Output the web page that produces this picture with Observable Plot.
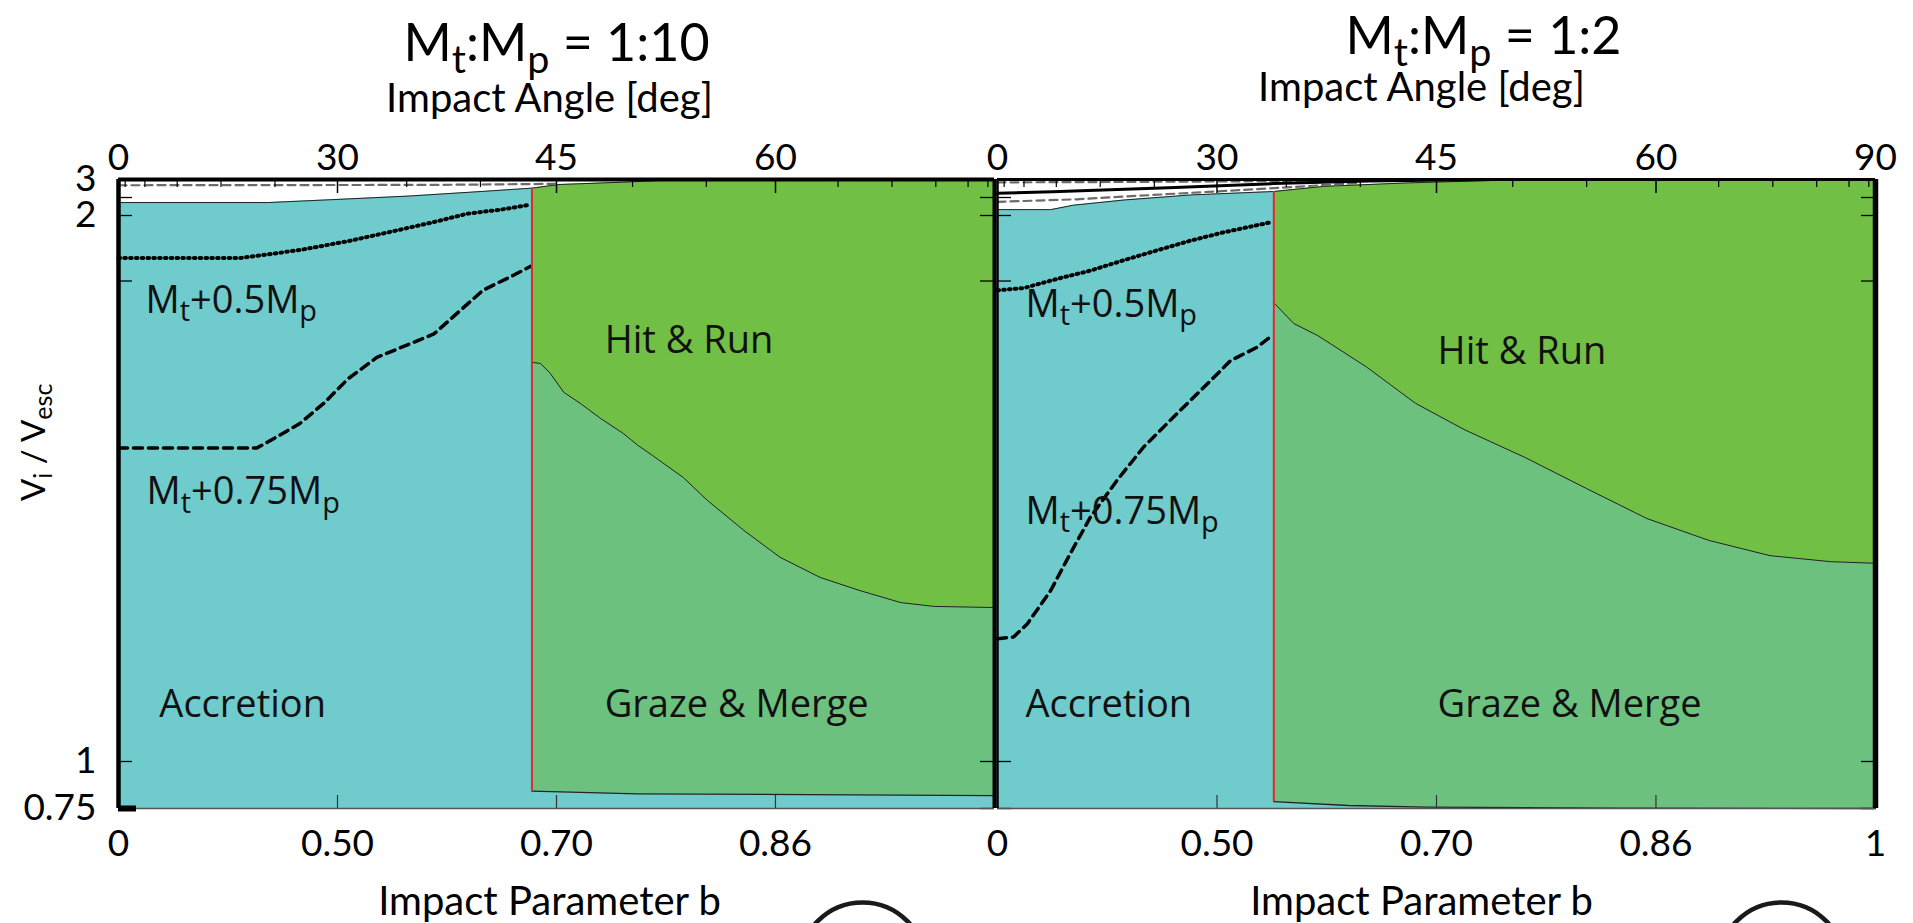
<!DOCTYPE html>
<html><head><meta charset="utf-8">
<script src="https://cdn.jsdelivr.net/npm/d3@7"></script>
<script src="https://cdn.jsdelivr.net/npm/@observablehq/plot@0.6"></script>
<style>
html,body{margin:0;padding:0;background:#fff;overflow:hidden;}
#wrap{position:relative;width:1913px;height:923px;overflow:hidden;}
#wrap svg{position:absolute;top:0;}
</style></head><body><div id="wrap"></div>
<script>
// ---------- shared axis values ----------
const yDomain = [0.75, 1, 2, 3];
const yTickMarks = [0.75, 1, 1.88, 2, 2.5, 3];
const yTickLabels = [0.75, 1, 2, 3];
const topMajorAngles = [30, 45, 60];
const topMinorAngles = [5, 10, 15, 20, 25, 35, 40, 50, 55, 65, 70, 75, 80, 85];
const bottomTickB = [0, 0.5, 0.7071, 0.866, 1];
const bottomTickText = ["0", "0.50", "0.70", "0.86", "1"];
const topTickAngles = [0, 30, 45, 60, 90];

// ---------- left panel (Mt:Mp = 1:10) ----------
const L_title = "M_t:M_p = 1:10";
const L_splitB = 0.687;
const L_accTopB = [0, 0.414, 0.503, 0.576, 0.645, 0.687];
const L_accTopV = [2.36, 2.36, 2.45, 2.54, 2.67, 2.76];
const L_hitTopB = [0.687, 0.709, 0.762, 0.80, 1];
const L_hitTopV = [2.76, 2.86, 2.93, 3.0, 3.0];
const L_boundB = [0.687, 0.694, 0.702, 0.713, 0.726, 0.742, 0.759, 0.770, 0.781, 0.803, 0.820, 0.845, 0.869, 0.895, 0.920, 0.945, 0.965, 1];
const L_boundV = [1.731, 1.729, 1.711, 1.676, 1.656, 1.628, 1.601, 1.579, 1.560, 1.520, 1.478, 1.423, 1.374, 1.337, 1.313, 1.291, 1.284, 1.282];
const L_floorB = [0.687, 0.770, 1];
const L_floorV = [0.842, 0.828, 0.819];
const L_halfB = [0, 0.373, 0.456, 0.515, 0.567, 0.600, 0.631, 0.660, 0.684];
const L_halfV = [1.922, 1.922, 1.937, 1.954, 1.974, 1.988, 2.05, 2.16, 2.29];
const L_q3B = [0, 0.397, 0.414, 0.455, 0.484, 0.512, 0.543, 0.600, 0.645, 0.671, 0.686];
const L_q3V = [1.574, 1.574, 1.586, 1.619, 1.656, 1.701, 1.740, 1.783, 1.863, 1.890, 1.907];
const L_grayDashes = [{b: [0, 0.6, 0.71], v: [2.84, 2.85, 2.88]}];
const L_blackThick = {b: [], v: []};
const L_labelText = ["Accretion", "Graze & Merge", "Hit & Run", "M_t+0.5M_p", "M_t+0.75M_p"];
const L_labelB = [0.216, 0.745, 0.745, 0.1756, 0.179];
const L_labelV = [1.103, 1.103, 1.771, 1.844, 1.493];

// ---------- right panel (Mt:Mp = 1:2) ----------
const R_title = "M_t:M_p = 1:2";
const R_splitB = 0.561;
const R_accTopB = [0, 0.246, 0.294, 0.379, 0.469, 0.561];
const R_accTopV = [2.163, 2.163, 2.286, 2.429, 2.571, 2.666];
const R_hitTopB = [0.561, 0.610, 0.684, 0.777, 1];
const R_hitTopV = [2.666, 2.81, 2.906, 3.0, 3.0];
const R_boundB = [0.561, 0.581, 0.604, 0.648, 0.690, 0.729, 0.775, 0.819, 0.860, 0.900, 0.938, 0.974, 1];
const R_boundV = [1.840, 1.802, 1.780, 1.723, 1.656, 1.608, 1.557, 1.500, 1.445, 1.405, 1.377, 1.366, 1.363];
const R_floorB = [0.561, 0.632, 0.699, 0.840, 1];
const R_floorV = [0.787, 0.766, 0.757, 0.752, 0.750];
const R_halfB = [0, 0.172, 0.261, 0.325, 0.379, 0.426, 0.469, 0.507, 0.559];
const R_halfV = [1.863, 1.867, 1.884, 1.899, 1.918, 1.936, 1.954, 1.969, 1.988];
const R_q3B = [0, 0.135, 0.184, 0.246, 0.288, 0.325, 0.369, 0.408, 0.452, 0.493, 0.515, 0.544, 0.559];
const R_q3V = [1.225, 1.228, 1.252, 1.313, 1.381, 1.447, 1.515, 1.576, 1.637, 1.698, 1.734, 1.759, 1.780];
const R_grayDashes = [{b: [0, 0.35, 0.6], v: [2.92, 2.93, 2.96]}, {b: [0, 0.3, 0.561, 0.64], v: [2.38, 2.45, 2.76, 2.9]}];
const R_blackThick = {b: [0, 0.25, 0.45, 0.561, 0.65, 0.75], v: [2.62, 2.66, 2.78, 2.886, 2.96, 3.0]};
const R_labelText = ["Accretion", "Graze & Merge", "Hit & Run", "M_t+0.5M_p", "M_t+0.75M_p"];
const R_labelB = [0.1786, 0.708, 0.708, 0.1786, 0.1786];
const R_labelV = [1.103, 1.103, 1.751, 1.837, 1.458];

// ---------- styling ----------
const CYAN = "#70cbcd", GRAZE = "#6cc17f", HIT = "#71bf45", RED = "#e8262a";
const AXF = "Lato, 'Open Sans', sans-serif";
const LBF = "'Open Sans', sans-serif";

const pts = (bs, vs) => bs.map((b, i) => ({b, v: vs[i]}));

function subscriptify(svg) {
  d3.select(svg).selectAll("text").each(function () {
    const t = this.textContent;
    if (!t.includes("_")) return;
    const fs = parseFloat(getComputedStyle(this).fontSize) || 30;
    const parts = [];
    const re = /_\{([^}]*)\}|_(.)/g;
    let last = 0, m;
    while ((m = re.exec(t))) {
      if (m.index > last) parts.push({s: t.slice(last, m.index), sub: false});
      parts.push({s: m[1] !== undefined ? m[1] : m[2], sub: true});
      last = re.lastIndex;
    }
    if (last < t.length) parts.push({s: t.slice(last), sub: false});
    while (this.firstChild) this.removeChild(this.firstChild);
    const shift = fs * 0.22;
    let down = false;
    for (const p of parts) {
      const ts = document.createElementNS("http://www.w3.org/2000/svg", "tspan");
      ts.textContent = p.s;
      if (p.sub) {
        ts.setAttribute("font-size", (fs * 0.76).toFixed(1));
        if (!down) { ts.setAttribute("dy", shift.toFixed(1)); down = true; }
      } else if (down) { ts.setAttribute("dy", (-shift).toFixed(1)); down = false; }
      this.appendChild(ts);
    }
  });
}

function panel(cfg) {
  const frameH = 808 - 179;
  const frameW = cfg.width - cfg.ml - cfg.mr;
  const accTop = pts(cfg.accTopB, cfg.accTopV);
  const hitTop = pts(cfg.hitTopB, cfg.hitTopV);
  const bound = pts(cfg.boundB, cfg.boundV);
  const floor = pts(cfg.floorB, cfg.floorV);
  const half = pts(cfg.halfB, cfg.halfV);
  const q3 = pts(cfg.q3B, cfg.q3V);
  const labels = cfg.labelText.map((s, i) => ({s, b: cfg.labelB[i], v: cfg.labelV[i]}));
  const topTicks = cfg.topAngles.map(a => ({b: Math.sin(a * Math.PI / 180), s: String(a)}));
  const botTicks = cfg.botIdx.map(i => ({b: bottomTickB[i], s: bottomTickText[i]}));
  const sinA = a => Math.sin(a * Math.PI / 180);
  const marks = [
    Plot.areaY(hitTop, {x: "b", y1: 0.75, y2: "v", fill: HIT}),
    Plot.areaY(accTop, {x: "b", y1: 0.75, y2: "v", fill: CYAN}),
    Plot.areaY(bound, {x: "b", y1: 0.75, y2: "v", fill: GRAZE}),
    Plot.areaY(floor, {x: "b", y1: 0.75, y2: "v", fill: CYAN}),
    Plot.line(accTop.concat(hitTop.slice(1)), {x: "b", y: "v", stroke: "#222", strokeWidth: 1}),
    Plot.line(bound, {x: "b", y: "v", stroke: "#222", strokeWidth: 1}),
    Plot.line(floor, {x: "b", y: "v", stroke: "#222", strokeWidth: 1.3}),
    ...cfg.grayDashes.map(g => Plot.line(pts(g.b, g.v), {x: "b", y: "v", stroke: "#6b6b6b", strokeWidth: 2.2, strokeDasharray: "8,5"})),
    Plot.line(pts(cfg.blackThick.b, cfg.blackThick.v), {x: "b", y: "v", stroke: "#000", strokeWidth: 3}),
    Plot.line(half, {x: "b", y: "v", stroke: "#000", strokeWidth: 4, strokeDasharray: "1.6,4.2"}),
    Plot.line(q3, {x: "b", y: "v", stroke: "#000", strokeWidth: 3.5, strokeDasharray: "9,6"}),
    Plot.ruleX([cfg.splitB], {x: d => d, y1: cfg.floorV[0], y2: cfg.accTopV[cfg.accTopV.length - 1], stroke: RED, strokeWidth: 2}),
    // tick marks
    Plot.tickX(topMajorAngles, {x: sinA, insetBottom: frameH - 14, stroke: "#000", strokeWidth: 1.5}),
    Plot.tickX(topMinorAngles, {x: sinA, insetBottom: frameH - 8, stroke: "#000", strokeWidth: 1.2}),
    Plot.tickX([0.5, 0.7071, 0.866], {x: d => d, insetTop: frameH - 13, stroke: "#333", strokeWidth: 1.2}),
    Plot.tickY(yTickMarks, {y: d => d, insetRight: frameW - 14, stroke: "#000", strokeWidth: 1.3}),
    Plot.tickY(yTickMarks, {y: d => d, insetLeft: frameW - 14, stroke: "#000", strokeWidth: 1.3}),
    // frame borders
    Plot.ruleY([0.75], {y: d => d, stroke: "#555", strokeWidth: 1.5}),
    Plot.ruleY([3], {y: d => d, stroke: "#000", strokeWidth: cfg.topW}),
    Plot.ruleX([0], {x: d => d, stroke: "#000", strokeWidth: cfg.leftW}),
    Plot.ruleX([1], {x: d => d, stroke: "#000", strokeWidth: cfg.rightW}),
    // tick labels
    Plot.text(topTicks, {x: "b", text: "s", frameAnchor: "top", dy: -36, fontSize: 37, fontFamily: AXF, fill: "#000"}),
    Plot.text(botTicks, {x: "b", text: "s", frameAnchor: "bottom", dy: 47, fontSize: 37, fontFamily: AXF, fill: "#000"}),
    // axis titles
    Plot.text([cfg.title], {frameAnchor: "top", dx: cfg.titleDx, dy: cfg.titleDy, fontSize: 52, fontFamily: AXF, fill: "#000"}),
    Plot.text(["Impact Angle [deg]"], {frameAnchor: "top", dx: cfg.axDx, dy: cfg.angleDy, fontSize: 40, fontFamily: AXF, fill: "#000"}),
    Plot.text(["Impact Parameter b"], {frameAnchor: "bottom", dx: cfg.axDx, dy: 106, fontSize: 40, fontFamily: AXF, fill: "#000"}),
    // region labels
    Plot.text(labels, {x: "b", y: "v", text: "s", textAnchor: "start", fontSize: 38, fontFamily: LBF, fill: "#111"}),
    // partial circles below
    Plot.dot([0], {frameAnchor: "bottom-left", dx: cfg.circDx, dy: 157, r: 63, stroke: "#1a1a1a", strokeWidth: 4.5, fill: "none"})
  ];
  if (cfg.yLabels) {
    marks.push(
      Plot.text(yTickLabels, {y: d => d, text: d => String(d), frameAnchor: "left", textAnchor: "end", dx: -22, fontSize: 37, fontFamily: AXF, fill: "#000"}),
      Plot.text(["V_i / V_{esc}"], {frameAnchor: "left", rotate: -90, dx: -84, dy: 7, fontSize: 33, fontFamily: AXF, fill: "#000"}),
      Plot.tickY([0.75], {y: d => d, insetRight: frameW - 18, stroke: "#000", strokeWidth: 6})
    );
  }
  const svg = Plot.plot({
    width: cfg.width, height: 923,
    marginLeft: cfg.ml, marginRight: cfg.mr, marginTop: 179, marginBottom: 115,
    style: {background: "transparent", overflow: "visible"},
    x: {type: "pow", exponent: 2, domain: [0, 1], axis: null},
    y: {type: "linear", domain: yDomain, range: [808, 761, 215, 179], axis: null},
    marks
  });
  svg.style.left = cfg.left + "px";
  document.getElementById("wrap").appendChild(svg);
  subscriptify(svg);
}

panel({
  left: 0, width: 1000, ml: 118, mr: 6,
  title: L_title, titleDx: 0, titleDy: -155, angleDy: -96, axDx: -7,
  splitB: L_splitB, accTopB: L_accTopB, accTopV: L_accTopV, hitTopB: L_hitTopB, hitTopV: L_hitTopV,
  boundB: L_boundB, boundV: L_boundV, floorB: L_floorB, floorV: L_floorV,
  halfB: L_halfB, halfV: L_halfV, q3B: L_q3B, q3V: L_q3V,
  grayDashes: L_grayDashes, blackThick: L_blackThick,
  labelText: L_labelText, labelB: L_labelB, labelV: L_labelV,
  topAngles: [0, 30, 45, 60], botIdx: [0, 1, 2, 3],
  topW: 4, leftW: 4.5, rightW: 4, yLabels: true, circDx: 744
});
panel({
  left: 980, width: 933, ml: 17, mr: 38,
  title: R_title, titleDx: 47, titleDy: -162, angleDy: -107, axDx: -15,
  splitB: R_splitB, accTopB: R_accTopB, accTopV: R_accTopV, hitTopB: R_hitTopB, hitTopV: R_hitTopV,
  boundB: R_boundB, boundV: R_boundV, floorB: R_floorB, floorV: R_floorV,
  halfB: R_halfB, halfV: R_halfV, q3B: R_q3B, q3V: R_q3V,
  grayDashes: R_grayDashes, blackThick: R_blackThick,
  labelText: R_labelText, labelB: R_labelB, labelV: R_labelV,
  topAngles: topTickAngles, botIdx: [0, 1, 2, 3, 4],
  topW: 3, leftW: 2.5, rightW: 5.5, yLabels: false, circDx: 784
});
</script></body></html>
